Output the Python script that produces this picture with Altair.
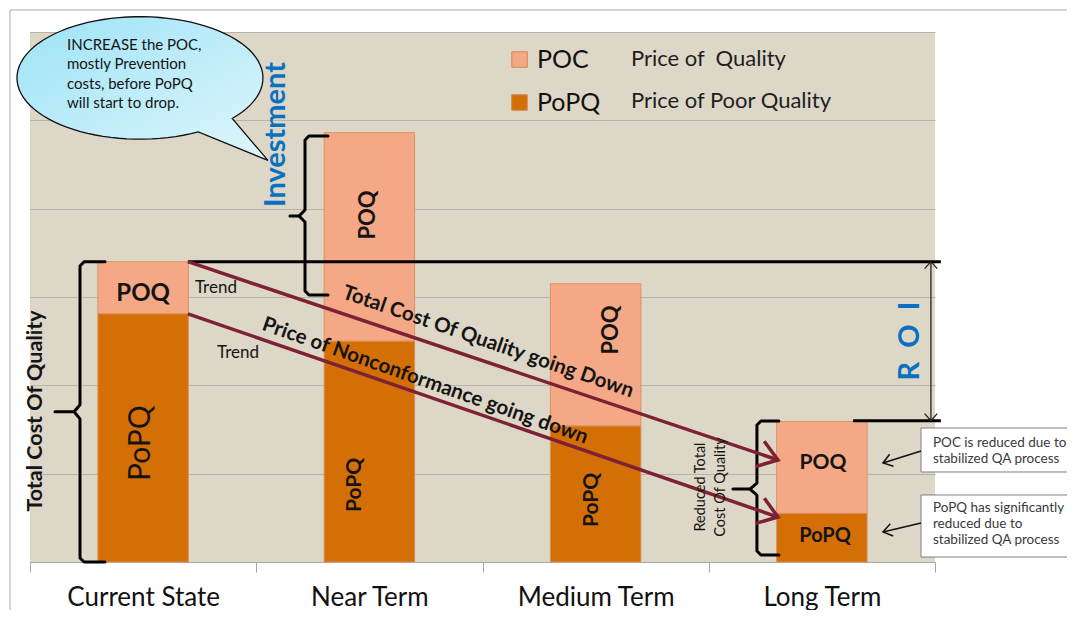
import math
import numpy as np
import pandas as pd
import altair as alt

# ---------------- data ----------------
terms = ["Current State", "Near Term", "Medium Term", "Long Term"]
poc_values = [5.9, 23.6, 16.1, 10.4]       # Price of Quality (upper segment)
popq_values = [28.1, 25.0, 15.4, 5.5]      # Price of Poor Quality (lower segment)
series_names = ["POC", "PoPQ"]
series_desc = ["Price of\u00a0 Quality", "Price of Poor Quality"]
series_colors = ["#F5A886", "#D46F06"]
y_ticks = [0, 10, 20, 30, 40, 50, 60]

# labels inside the bars (x in category-index units 0..4, y in value units)
bar_label_text = ["POQ", "PoPQ", "POQ", "PoPQ", "POQ", "PoPQ", "POQ", "PoPQ"]
bar_label_x = [0.5, 0.49, 1.494, 1.436, 2.568, 2.484, 3.505, 3.514]
bar_label_y = [30.34, 13.47, 39.28, 8.72, 26.26, 7.02, 11.21, 2.94]
bar_label_angle = [0, 270, 270, 270, 270, 270, 0, 0]
bar_label_size = [24, 30, 22, 21, 22, 21, 21, 20]
bar_label_bold = [True, False, True, True, True, True, True, True]

# legend descriptions
desc_x = [2.656, 2.656]
desc_y = [56.94, 52.19]

# black level lines (current total, long-term total)
level_x = [0.698, 3.638]
level_x2 = [4.026, 4.026]
level_y = [34.0, 16.0]

# ROI double arrow
roi_x = [3.982]
roi_y_top = [34.0]
roi_y_bottom = [16.0]

# trend arrows
trend_x0 = [0.698, 0.698]
trend_y0 = [34.0, 28.1]
trend_x1 = [3.306, 3.306]
trend_y1 = [11.55, 5.09]

# braces: id, point order, x, y
brace_id = ["tcq"] * 11 + ["inv"] * 11 + ["red"] * 11
brace_x = [0.3315, 0.239, 0.221, 0.221, 0.195, 0.1105, 0.195, 0.221, 0.221, 0.239, 0.3315,
           1.317, 1.233, 1.2155, 1.2155, 1.189, 1.149, 1.189, 1.2155, 1.2155, 1.233, 1.317,
           3.310, 3.231, 3.213, 3.213, 3.182, 3.107, 3.182, 3.213, 3.213, 3.231, 3.310]
brace_y = [34.0, 34.0, 33.5, 17.8, 17.0, 17.0, 17.0, 16.2, 0.45, 0.0, 0.0,
           48.23, 48.23, 47.77, 39.85, 39.17, 39.17, 39.17, 38.49, 30.68, 30.23, 30.23,
           15.96, 15.96, 15.51, 8.94, 8.26, 8.26, 8.26, 7.58, 1.25, 0.79, 0.79]

# note boxes and their small arrows
box_x = [3.938, 3.938]
box_x2 = [4.62, 4.62]
box_y = [15.17, 7.585]
box_y2 = [10.19, 0.566]
box_text = ["POC is reduced due to\nstabilized QA process",
            "PoPQ has significantly\nreduced due to\nstabilized QA process"]
box_text_x = [3.991, 3.991]
box_text_y = [13.47, 6.11]
note_arrow_x0 = [3.938, 3.938]
note_arrow_y0 = [12.57, 4.415]
note_arrow_x1 = [3.770, 3.770]
note_arrow_y1 = [11.21, 3.40]

# speech bubble
bubble_x = [0.486]
bubble_y = [54.8]
bubble_text = "INCREASE the POC,\nmostly Prevention\ncosts, before PoPQ\nwill start to drop."

# slide frame
frame_x = [-0.0884, -0.0884]
frame_x2 = [-0.0884, 4.62]
frame_y = [62.49, 62.49]
frame_y2 = [-6.4, 62.49]

# ---------------- layout helpers ----------------
W, H = 905, 530
X_MAX, Y_MAX = 4, 60
FONT = "Lato"
TXT = "#141414"

xs = alt.Scale(domain=[0, X_MAX], nice=False, zero=False)
ys = alt.Scale(domain=[0, Y_MAX], nice=False, zero=True)
y_axis = alt.Axis(values=y_ticks, grid=True, gridColor="#B8B3A7", gridWidth=1,
                  labels=False, ticks=False, domain=False, title=None)


def XQ(f="x"):
    return alt.X(f"{f}:Q", scale=xs, axis=None)


def YQ(f="y"):
    return alt.Y(f"{f}:Q", scale=ys, axis=y_axis)


def screen_angle(x0, y0, x1, y1):
    dx = (x1 - x0) * W / X_MAX
    dy = -(y1 - y0) * H / Y_MAX
    return math.degrees(math.atan2(dy, dx)) % 360


def text_layer(text, x, y, size, angle=0, bold=False, color=TXT, align="center",
               line_height=None):
    df = pd.DataFrame({"x": [x], "y": [y], "t": [text]})
    kw = dict(font=FONT, fontSize=size, angle=angle,
              fontWeight="bold" if bold else "normal", color=color,
              align=align, baseline="middle", lineBreak="\n")
    if line_height:
        kw["lineHeight"] = line_height
    return alt.Chart(df).mark_text(**kw).encode(x=XQ(), y=YQ(), text="t:N")


CHEVRON = "M-1,-0.7L0,0L-1,0.7"

# ---------------- bars ----------------
bar_df = pd.DataFrame({
    "term": terms * 2,
    "series": [series_names[0]] * 4 + [series_names[1]] * 4,
    "value": poc_values + popq_values,
    "ord": [1] * 4 + [0] * 4,
})

bars = alt.Chart(bar_df).mark_bar(
    width=alt.RelativeBandSize(0.4), stroke="#DA9360", strokeWidth=1, opacity=1
).encode(
    x=alt.X("term:N", sort=terms,
            scale=alt.Scale(paddingInner=0, paddingOuter=0),
            axis=alt.Axis(title=None, labelAngle=0, labelFont=FONT, labelFontSize=26,
                          labelColor="#111111", tickBand="extent", tickSize=10,
                          tickColor="#A6A6A6", domainColor="#A6A6A6", labelPadding=12,
                          grid=False)),
    y=alt.Y("value:Q", stack="zero", scale=ys, axis=y_axis),
    color=alt.Color("series:N",
                    scale=alt.Scale(domain=series_names, range=series_colors),
                    legend=alt.Legend(title=None, orient="none", legendX=477, legendY=15,
                                      direction="vertical", symbolType="square",
                                      symbolSize=240, symbolOpacity=1,
                                      symbolStrokeColor="#D08850", symbolStrokeWidth=1,
                                      labelFont=FONT, labelFontSize=25, labelColor="#111111",
                                      labelOffset=5, rowPadding=17, padding=0)),
    order=alt.Order("ord:Q"),
)

# ---------------- annotations ----------------
layers = []

# slide frame
frame_df = pd.DataFrame({"x": frame_x, "x2": frame_x2, "y": frame_y, "y2": frame_y2})
layers.append(alt.Chart(frame_df).mark_rule(color="#A8A8A8", strokeWidth=1).encode(
    x=XQ(), x2="x2:Q", y=YQ(), y2="y2:Q"))

# speech bubble shape (ellipse with tail), in symbol units
rx, ry = 0.984, 0.49
angles = np.radians(np.linspace(41.4, 61.7 - 360, 90))
pts = [f"{rx * math.cos(a):.4f},{ry * math.sin(a):.4f}" for a in angles]
bubble_path = "M" + "L".join(pts) + "L1.024,0.66Z"
grad = {"gradient": "linear", "x1": 0, "y1": 0, "x2": 1, "y2": 1,
        "stops": [{"offset": 0, "color": "#9DE3F6"}, {"offset": 1, "color": "#DFF6FC"}]}
layers.append(alt.Chart(pd.DataFrame({"x": bubble_x, "y": bubble_y})).mark_point(
    shape=bubble_path, size=62500, filled=True, fill=grad, stroke="#111111",
    strokeWidth=1.3, opacity=1).encode(x=XQ(), y=YQ()))
layers.append(text_layer(bubble_text, 0.1635, 58.53, 15, align="left", line_height=19.3))

# level lines
lvl_df = pd.DataFrame({"x": level_x, "x2": level_x2, "y": level_y})
layers.append(alt.Chart(lvl_df).mark_rule(color="#000000", strokeWidth=3).encode(
    x=XQ(), x2="x2:Q", y=YQ()))

# braces
br_df = pd.DataFrame({"id": brace_id, "i": list(range(len(brace_x))), "x": brace_x, "y": brace_y})
layers.append(alt.Chart(br_df).mark_line(color="#000000", strokeWidth=3, strokeJoin="round",
                                         strokeCap="round").encode(
    x=XQ(), y=YQ(), detail="id:N", order="i:Q"))

# ROI arrow
roi_df = pd.DataFrame({"x": roi_x, "y": roi_y_top, "y2": roi_y_bottom})
layers.append(alt.Chart(roi_df).mark_rule(color="#222222", strokeWidth=1.3).encode(
    x=XQ(), y=YQ(), y2="y2:Q"))
roi_head_df = pd.DataFrame({"x": roi_x * 2, "y": roi_y_top + roi_y_bottom, "a": [270, 90]})
layers.append(alt.Chart(roi_head_df).mark_point(shape="M-1,-0.9L0,0L-1,0.9", size=196,
                                                filled=False, color="#222222", strokeWidth=1.3,
                                                opacity=1).encode(
    x=XQ(), y=YQ(), angle=alt.Angle("a:Q", scale=None)))

# trend arrows
tr_df = pd.DataFrame({"x": trend_x0, "y": trend_y0, "x2": trend_x1, "y2": trend_y1})
layers.append(alt.Chart(tr_df).mark_rule(color="#7D2234", strokeWidth=3.5).encode(
    x=XQ(), y=YQ(), x2="x2:Q", y2="y2:Q"))
tr_head_df = pd.DataFrame({"x": trend_x1, "y": trend_y1,
                           "a": [screen_angle(trend_x0[i], trend_y0[i], trend_x1[i], trend_y1[i])
                                 for i in range(2)]})
layers.append(alt.Chart(tr_head_df).mark_point(shape=CHEVRON, size=1444, filled=False,
                                               color="#7D2234", strokeWidth=3.5, opacity=1,
                                               strokeJoin="miter").encode(
    x=XQ(), y=YQ(), angle=alt.Angle("a:Q", scale=None)))

# note boxes
bx_df = pd.DataFrame({"x": box_x, "x2": box_x2, "y": box_y, "y2": box_y2})
layers.append(alt.Chart(bx_df).mark_rect(fill="#FFFFFF", stroke="#7F7F7F", strokeWidth=1).encode(
    x=XQ(), x2="x2:Q", y=YQ(), y2="y2:Q"))
na_df = pd.DataFrame({"x": note_arrow_x0, "y": note_arrow_y0, "x2": note_arrow_x1, "y2": note_arrow_y1})
layers.append(alt.Chart(na_df).mark_rule(color="#111111", strokeWidth=1.5).encode(
    x=XQ(), y=YQ(), x2="x2:Q", y2="y2:Q"))
na_head_df = pd.DataFrame({"x": note_arrow_x1, "y": note_arrow_y1,
                           "a": [screen_angle(note_arrow_x0[i], note_arrow_y0[i],
                                              note_arrow_x1[i], note_arrow_y1[i]) for i in range(2)]})
layers.append(alt.Chart(na_head_df).mark_point(shape=CHEVRON, size=324, filled=False,
                                               color="#111111", strokeWidth=1.5, opacity=1).encode(
    x=XQ(), y=YQ(), angle=alt.Angle("a:Q", scale=None)))
for i in range(2):
    layers.append(text_layer(box_text[i], box_text_x[i], box_text_y[i], 13.5, align="left",
                             color="#3A3A3A", line_height=16))

# bar labels
for i in range(len(bar_label_text)):
    layers.append(text_layer(bar_label_text[i], bar_label_x[i], bar_label_y[i],
                             bar_label_size[i], angle=bar_label_angle[i],
                             bold=bar_label_bold[i]))

# legend descriptions
for i in range(2):
    layers.append(text_layer(series_desc[i], desc_x[i], desc_y[i], 22, align="left",
                             color="#1E1E1E"))

# other texts
layers.append(text_layer("Investment", 1.087, 48.4, 29, angle=270, bold=True, color="#0A70C0"))
layers.append(text_layer("R\u00a0\u00a0O\u00a0\u00a0I", 3.888, 25.02, 29, angle=270, bold=True,
                         color="#0A70C0"))
layers.append(text_layer("Total Cost Of Quality", 0.0265, 17.09, 21.5, angle=270, bold=True))
layers.append(text_layer("Reduced Total\nCost Of Quality", 2.965, 8.49, 14.5, angle=270,
                         line_height=20))
layers.append(text_layer("Trend", 0.729, 31.02, 17, align="left"))
layers.append(text_layer("Trend", 0.8265, 23.66, 17, align="left"))
a1 = screen_angle(trend_x0[0], trend_y0[0], trend_x1[0], trend_y1[0]) + 0.4
a2 = screen_angle(trend_x0[1], trend_y0[1], trend_x1[1], trend_y1[1]) + 0.4
layers.append(text_layer("Total Cost Of Quality going Down", 2.024, 24.9, 20.5, angle=a1, bold=True))
layers.append(text_layer("Price of Nonconformance going down", 1.746, 20.49, 20.5, angle=a2, bold=True))

annotations = alt.layer(*layers)

chart = alt.layer(bars, annotations).resolve_scale(x="independent").properties(
    width=W, height=H,
    autosize=alt.AutoSizeParams(type="none"),
    padding={"left": 22, "top": 24, "right": 132, "bottom": 48},
    background="#FFFFFF",
).configure_view(fill="#DDD7C7", stroke=None)

chart.save("out.html", embed_options={"renderer": "svg", "actions": False})
